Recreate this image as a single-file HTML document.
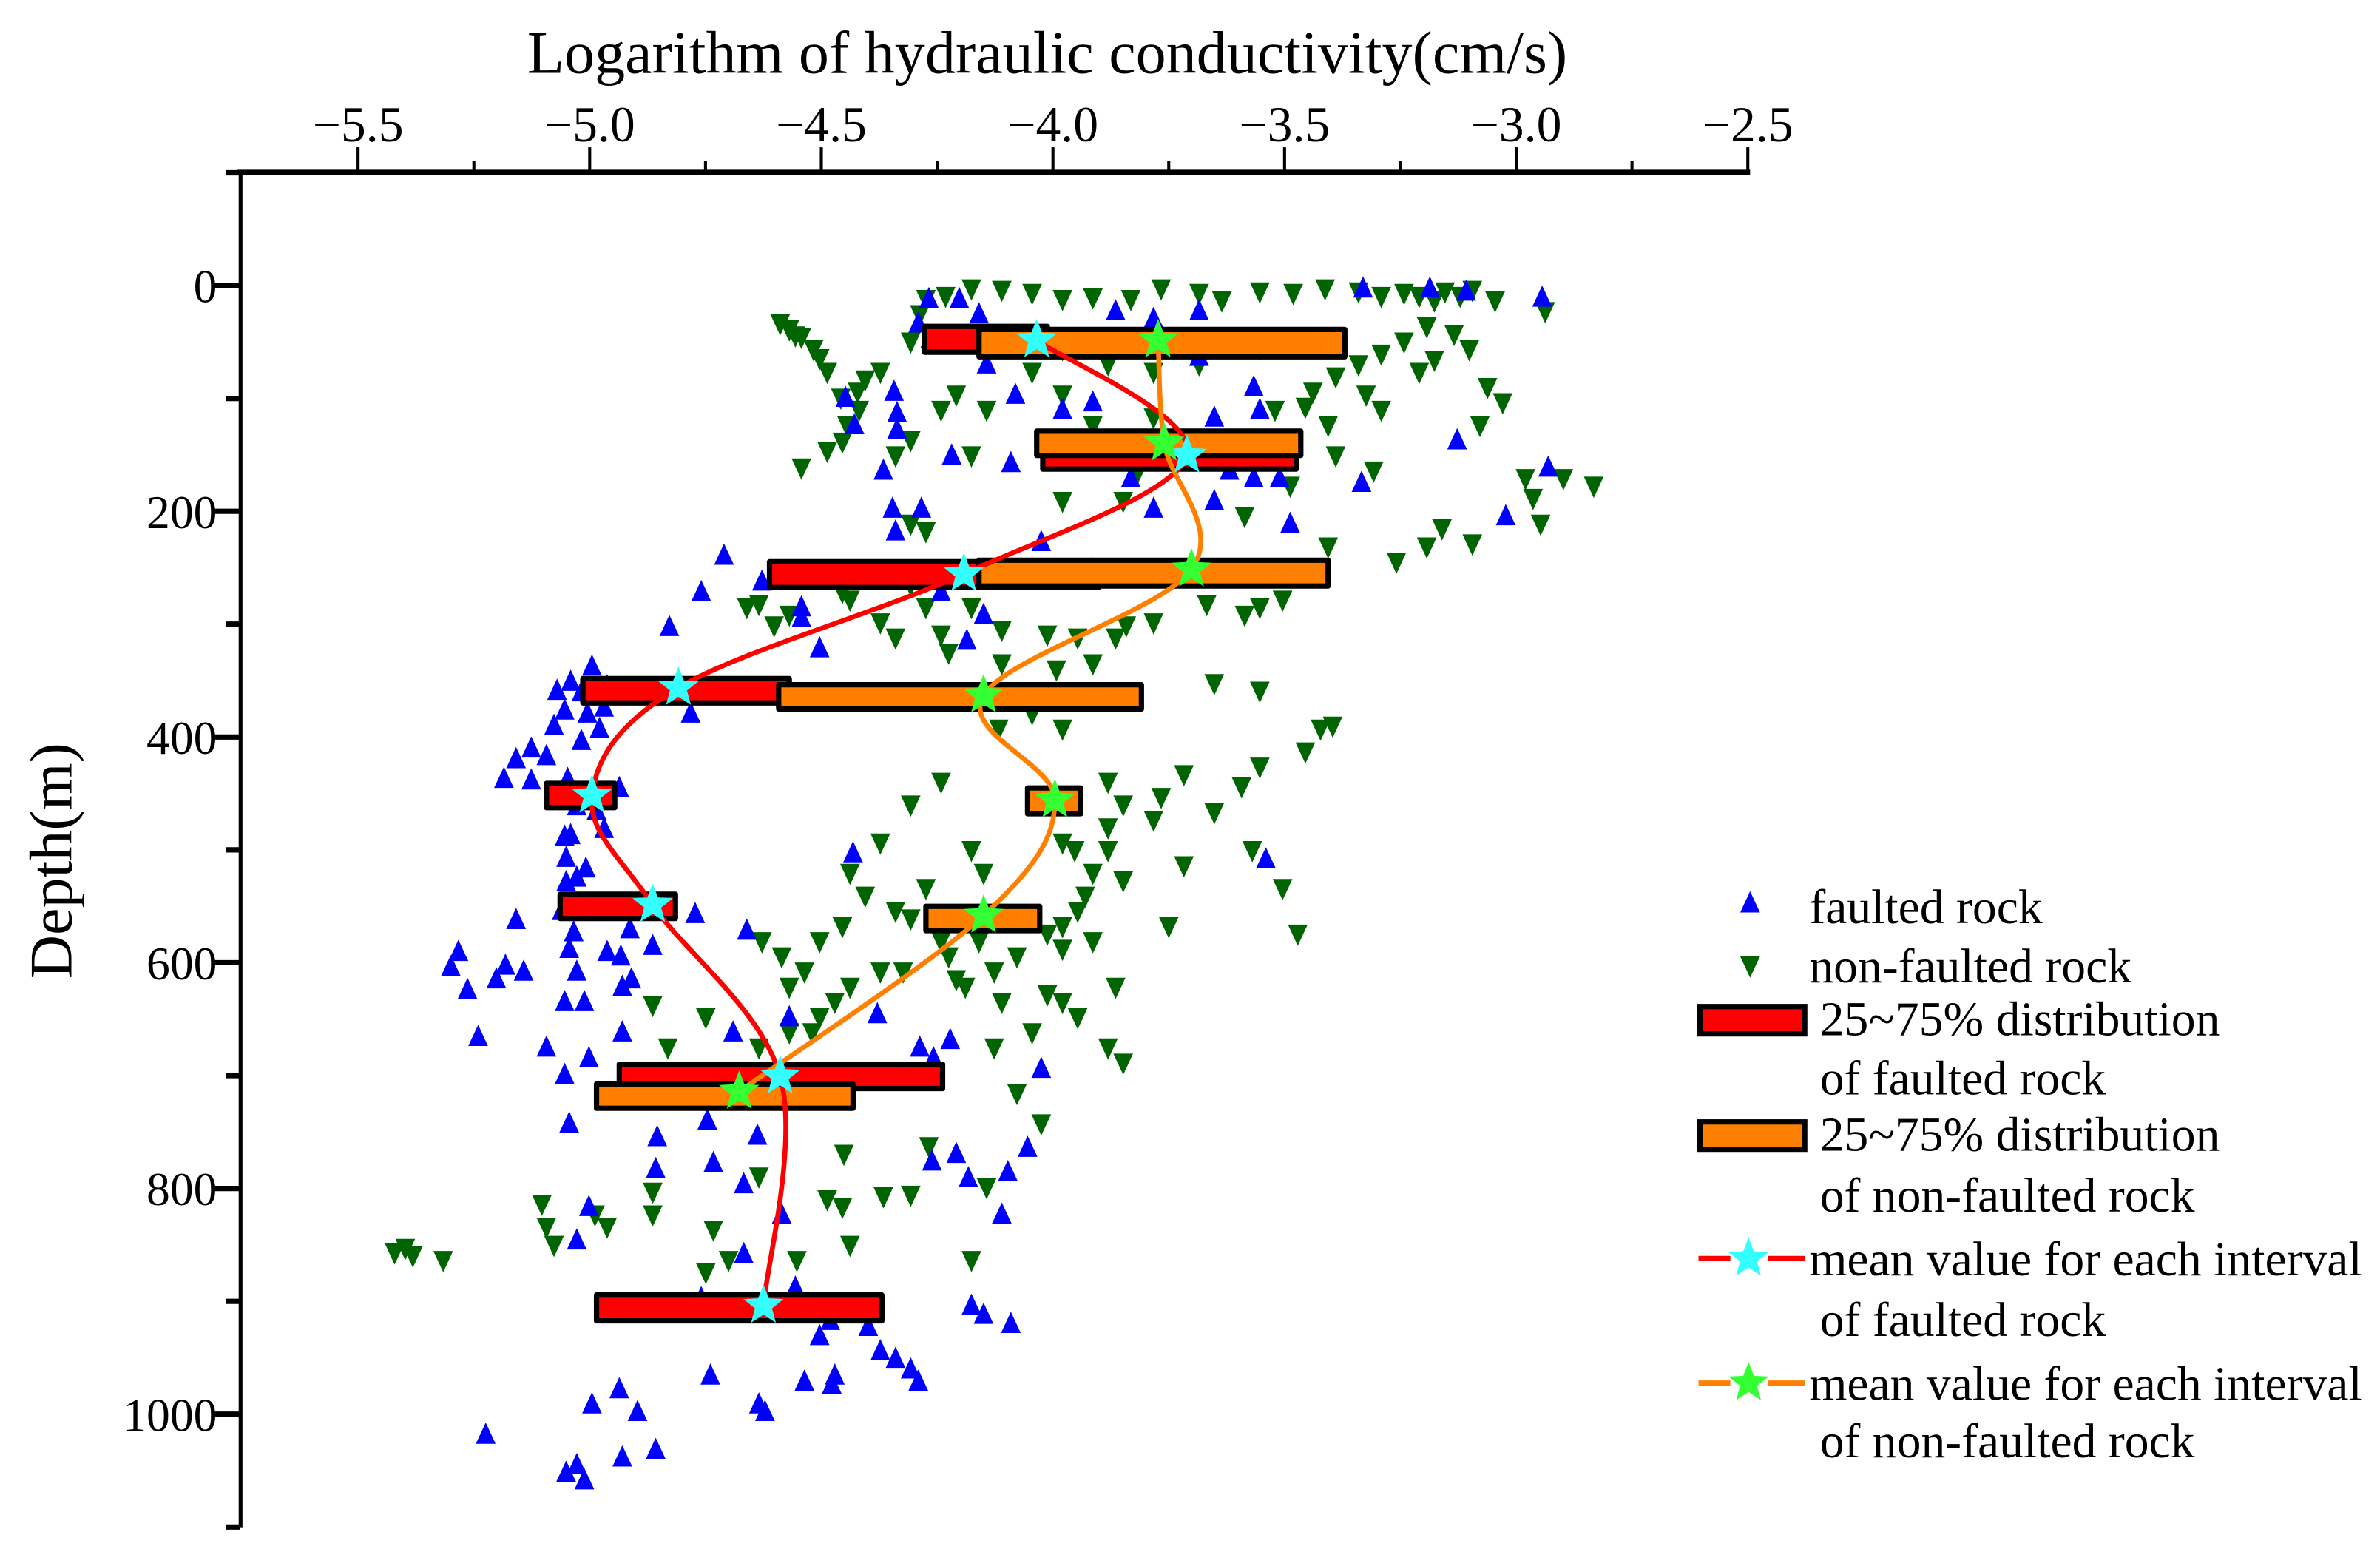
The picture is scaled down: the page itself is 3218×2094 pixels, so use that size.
<!DOCTYPE html>
<html><head><meta charset="utf-8"><style>
html,body{margin:0;padding:0;background:#fff;}
svg{display:block;}
text{font-family:"Liberation Serif",serif;fill:#000;}
</style></head><body>
<svg id="s" xmlns="http://www.w3.org/2000/svg" width="3218" height="2094" viewBox="0 0 1568 1020.3" preserveAspectRatio="none">
<rect width="1568" height="1021" fill="#fff"/>
<g id="pts"></g>
<g id="boxes"></g>
<g id="curves"></g>
<g id="stars"></g>
<g id="axes" stroke="#000" fill="none"></g>
<text x="690" y="48" font-size="40" text-anchor="middle">Logarithm of hydraulic conductivity(cm/s)</text>
<text transform="translate(47,567) rotate(-90)" font-size="40" text-anchor="middle">Depth(m)</text>
<g id="lbl"></g>
<g id="legend" font-size="32"></g>
</svg>
<script>
var NS="http://www.w3.org/2000/svg";
function el(p,t,a,txt){var e=document.createElementNS(NS,t);for(var k in a)e.setAttribute(k,a[k]);if(txt!==undefined)e.textContent=txt;document.getElementById(p).appendChild(e);return e;}
function X(v){return 235.9+(v+5.5)*305.2;}
function Y(d){return 188.1+d*0.7434;}
el('axes','line',{x1:156.5,y1:113.5,x2:1153,y2:113.5,'stroke-width':3.5});
el('axes','line',{x1:158.5,y1:112,x2:158.5,y2:1006,'stroke-width':2.5});
for(var i=0;i<=13;i++){var v=-5.75+i*0.25;var x=X(v);if(x<160)continue;var maj=(i%2==1);
 el('axes','line',{x1:x,y1:113.5,x2:x,y2:maj?97:106,'stroke-width':2});
 if(maj)el('lbl','text',{x:x,y:93,'font-size':33,'text-anchor':'middle'},(v<0?'\u2212':'')+Math.abs(v).toFixed(1));}
for(var d=-100;d<=1100;d+=100){var y=Y(d);var maj=(d%200==0);
 el('axes','line',{x1:158,y1:y,x2:maj?141:149,y2:y,'stroke-width':3.5});
 if(maj)el('lbl','text',{x:143,y:y+11,'font-size':31,'text-anchor':'end'},String(d));}
var blue=[[612,197],[632,197],[645,207],[605,213],[613,223],[650,240],[678,222],[669,260],[589,258],[557,262],[591,272],[563,280],[591,283],[582,310],[607,335],[588,335],[590,350],[627,300],[666,305],[700,270],[720,265],[735,205],[760,210],[790,235],[790,205],[800,275],[760,335],[745,315],[800,330],[826,315],[850,345],[843,315],[898,190],[942,190],[966,192],[1016,196],[960,290],[1020,308],[992,340],[897,318],[830,270],[815,300],[826,255],[810,310],[477,366],[462,390],[502,383],[528,400],[528,407],[441,413],[540,427],[455,470],[580,378],[620,390],[690,382],[648,405],[637,422],[686,357],[720,375],[390,439],[376,449],[367,455],[383,456],[400,452],[398,466],[387,470],[372,468],[365,478],[395,480],[383,488],[350,493],[360,498],[340,500],[332,513],[350,514],[374,513],[408,519],[393,534],[380,531],[398,546],[376,550],[372,551],[373,565],[386,572],[380,578],[373,581],[340,606],[370,600],[378,614],[375,625],[400,627],[415,612],[430,623],[345,640],[333,636],[327,645],[302,627],[297,637],[308,652],[380,640],[410,650],[458,602],[372,660],[409,630],[416,645],[492,613],[385,660],[315,683],[360,690],[410,680],[483,680],[520,670],[578,668],[606,690],[626,685],[615,697],[562,562],[834,566],[372,708],[388,697],[459,723],[499,748],[433,749],[466,738],[470,766],[432,770],[375,740],[490,780],[515,800],[614,765],[630,760],[664,772],[638,776],[660,800],[677,756],[686,704],[463,720],[524,848],[547,870],[540,880],[572,874],[580,890],[590,895],[600,902],[550,906],[605,910],[408,915],[390,925],[420,930],[432,955],[380,965],[373,970],[385,975],[410,960],[500,925],[548,912],[320,945],[640,860],[648,866],[666,872],[504,930],[490,826],[388,795],[468,906],[462,855],[380,817],[530,910]];
var green=[[514,213],[520,217],[524,221],[528,222],[536,230],[540,236],[545,245],[554,262],[558,280],[565,258],[570,250],[580,245],[555,291],[545,297],[528,308],[566,270],[600,225],[606,207],[610,197],[623,195],[640,190],[660,191],[680,193],[700,197],[720,196],[745,197],[765,190],[790,193],[805,198],[830,192],[852,193],[873,190],[895,192],[910,195],[925,193],[935,195],[945,198],[952,192],[962,195],[970,191],[985,198],[1018,205],[940,215],[925,225],[910,233],[895,240],[880,248],[865,258],[860,268],[875,280],[900,260],[910,270],[935,245],[945,237],[958,220],[968,230],[980,255],[990,265],[975,280],[1005,315],[1030,315],[1050,320],[1015,345],[1010,328],[970,358],[950,348],[940,360],[920,370],[875,360],[850,380],[845,395],[830,400],[820,405],[795,398],[800,380],[760,410],[742,412],[735,420],[710,420],[690,418],[660,415],[640,400],[620,418],[610,400],[600,385],[625,430],[660,437],[696,441],[720,437],[660,460],[680,470],[700,480],[658,480],[610,350],[600,345],[700,330],[740,330],[760,275],[800,290],[840,270],[830,230],[810,225],[790,240],[760,245],[730,240],[700,230],[680,245],[650,270],[630,260],[620,270],[600,290],[590,300],[640,300],[725,300],[700,260],[720,280],[750,310],[850,320],[820,340],[880,300],[905,310],[555,390],[560,395],[580,410],[590,420],[520,405],[500,398],[492,400],[510,412],[800,450],[830,455],[870,480],[878,478],[860,495],[830,505],[818,518],[800,535],[825,560],[845,585],[855,615],[730,560],[730,545],[720,575],[708,560],[710,600],[715,590],[700,610],[690,615],[700,625],[740,580],[648,575],[640,560],[610,585],[600,605],[620,620],[595,640],[580,640],[560,650],[550,660],[540,670],[535,680],[520,680],[500,690],[430,662],[465,670],[440,690],[645,620],[655,640],[660,660],[670,630],[690,655],[700,660],[720,620],[735,650],[680,680],[710,670],[730,690],[740,700],[770,610],[780,570],[700,555],[760,540],[765,525],[780,510],[740,530],[730,515],[620,515],[600,530],[580,555],[560,575],[570,590],[555,610],[540,620],[530,640],[520,650],[590,600],[502,620],[515,630],[630,645],[625,630],[636,650],[655,690],[670,720],[686,740],[612,755],[556,760],[500,775],[430,785],[430,800],[357,793],[360,808],[365,820],[392,800],[400,808],[292,830],[272,827],[267,822],[260,825],[465,838],[545,790],[525,830],[582,788],[600,787],[555,795],[650,782],[640,830],[560,820],[480,830],[470,810]];
function triU(g,x,y,c){el(g,'polygon',{points:(x)+','+(y-8)+' '+(x-6.5)+','+(y+6)+' '+(x+6.5)+','+(y+6),fill:c});}
function triD(g,x,y,c){el(g,'polygon',{points:(x)+','+(y+8)+' '+(x-6.5)+','+(y-6)+' '+(x+6.5)+','+(y-6),fill:c});}
green.forEach(function(p){triD('pts',p[0],p[1],'#006400');});
blue.forEach(function(p){triU('pts',p[0],p[1],'#0000ff');});
var bx=[['r',609,690,215,232],['o',645,886,217,235],['r',687,854,296,309],['o',683,857,284,300],['r',507,724,370,387],['o',645,875,369,386],['r',384,520,447,463],['o',513,752,451,467],['r',360,405,516,532],['o',677,712,519,536],['r',369,445,589,605],['o',610,685,597,613],['r',408,621,701,717],['o',393,562,714,730],['r',393,581,853,870]];
bx.forEach(function(b){el('boxes','rect',{x:b[1],y:b[3],width:b[2]-b[1],height:b[4]-b[3],fill:b[0]=='r'?'#ff0000':'#ff8000',stroke:'#000','stroke-width':3.5,'stroke-linejoin':'round'});});
var cy=[[683,224],[782,300],[635,378],[447,453],[390,524],[430,596],[514,709],[503,860]];
var gr=[[763,224],[767,292],[785,375],[648,458],[695,527],[648,603],[487,719]];
function cr(p){var d='M'+p[0][0]+','+p[0][1];for(var i=0;i<p.length-1;i++){var p0=p[i-1]||p[i],p1=p[i],p2=p[i+1],p3=p[i+2]||p2;
 d+=' C'+(p1[0]+(p2[0]-p0[0])/6)+','+(p1[1]+(p2[1]-p0[1])/6)+' '+(p2[0]-(p3[0]-p1[0])/6)+','+(p2[1]-(p3[1]-p1[1])/6)+' '+p2[0]+','+p2[1];}return d;}
el('curves','path',{d:cr(cy),fill:'none',stroke:'#ff0000','stroke-width':3.2});
el('curves','path',{d:cr(gr),fill:'none',stroke:'#ff8000','stroke-width':3.2});
function star(g,x,y,r,c){var s='';for(var i=0;i<10;i++){var a=-Math.PI/2+i*Math.PI/5;var rr=i%2?r*0.42:r;s+=(x+rr*Math.cos(a)).toFixed(1)+','+(y+rr*Math.sin(a)).toFixed(1)+' ';}el(g,'polygon',{points:s,fill:c});}
cy.forEach(function(p){star('stars',p[0],p[1],14,'#33ffff');});
gr.forEach(function(p){star('stars',p[0],p[1],14,'#33ff33');});
triU('legend',1153,595,'#0000ff');
el('legend','text',{x:1192,y:608},'faulted rock');
triD('legend',1153,636,'#006400');
el('legend','text',{x:1192,y:647},'non-faulted rock');
el('legend','rect',{x:1120,y:663,width:69,height:18,fill:'#ff0000',stroke:'#000','stroke-width':3.5});
el('legend','text',{x:1199,y:682},'25~75% distribution');
el('legend','text',{x:1199,y:721},'of faulted rock');
el('legend','rect',{x:1120,y:739,width:69,height:18,fill:'#ff8000',stroke:'#000','stroke-width':3.5});
el('legend','text',{x:1199,y:758},'25~75% distribution');
el('legend','text',{x:1199,y:798},'of non-faulted rock');
el('legend','line',{x1:1119,y1:829,x2:1140,y2:829,stroke:'#ff0000','stroke-width':3.5});
el('legend','line',{x1:1165,y1:829,x2:1189,y2:829,stroke:'#ff0000','stroke-width':3.5});
star('legend',1152,829,14,'#33ffff');
el('legend','text',{x:1192,y:840},'mean value for each interval');
el('legend','text',{x:1199,y:880},'of faulted rock');
el('legend','line',{x1:1119,y1:911,x2:1140,y2:911,stroke:'#ff8000','stroke-width':3.5});
el('legend','line',{x1:1165,y1:911,x2:1189,y2:911,stroke:'#ff8000','stroke-width':3.5});
star('legend',1152,911,14,'#33ff33');
el('legend','text',{x:1192,y:922},'mean value for each interval');
el('legend','text',{x:1199,y:960},'of non-faulted rock');
</script>
</body></html>
